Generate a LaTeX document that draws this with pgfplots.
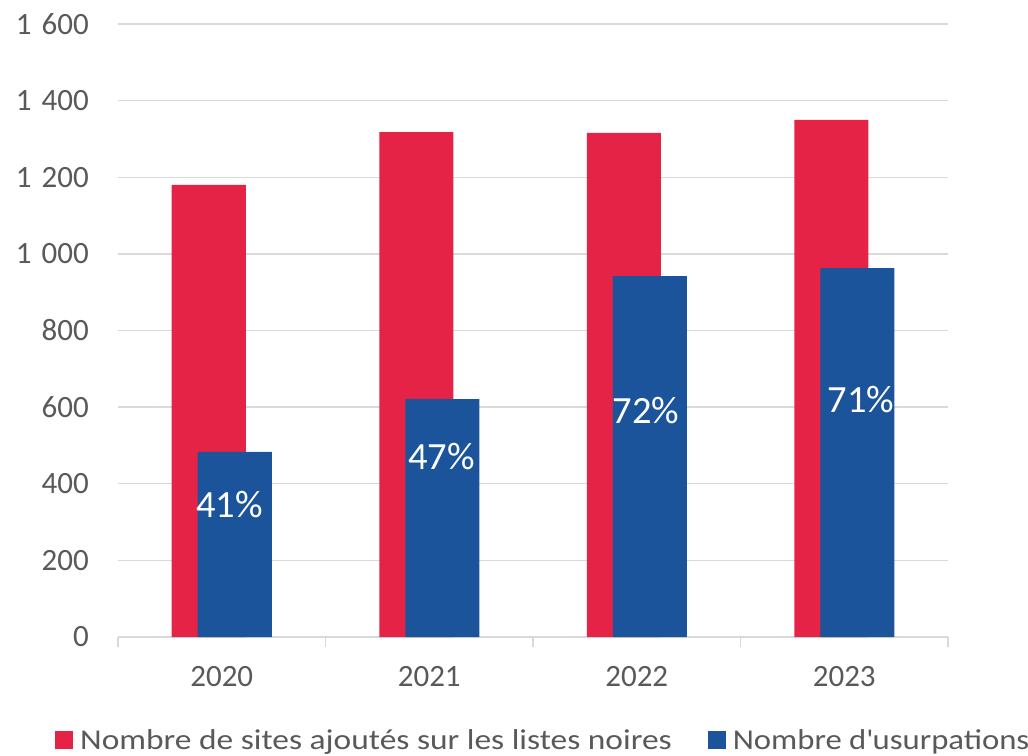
\documentclass[border=0pt]{standalone}
\usepackage{pgfplots}
\pgfplotsset{compat=1.18}
\usepackage{fontspec}
\setmainfont{Carlito}
\newfontfamily\legfont[FakeStretch=1.165]{Carlito}
\newfontfamily\legfontb[FakeStretch=1.14]{Carlito}
\definecolor{cred}{RGB}{229,35,70}
\definecolor{cblue}{RGB}{28,84,155}
\definecolor{ctext}{RGB}{89,89,89}
\definecolor{cgrid}{RGB}{217,217,217}
\begin{document}
\begin{tikzpicture}
\useasboundingbox (-118pt,-118pt) rectangle (910pt,637pt);
\begin{axis}[
  at={(0,0)}, anchor=south west,
  scale only axis, width=830pt, height=613pt,
  xmin=-0.5, xmax=3.5, ymin=0, ymax=1600,
  ybar, bar width=74pt,
  axis lines*=left,
  y axis line style={draw=none},
  x axis line style={cgrid, line width=1.3pt},
  ymajorgrids, grid style={cgrid, line width=1.3pt},
  major tick length=10pt, tick align=outside,
  ytick={0,200,400,600,800,1000,1200,1400,1600},
  yticklabels={0,200,400,600,800,{1\hspace{10pt}000},{1\hspace{10pt}200},{1\hspace{10pt}400},{1\hspace{10pt}600}},
  ytick style={draw=none},
  xtick={0,1,2,3}, xticklabels={2020,2021,2022,2023},
  xtick style={draw=none},
  extra x ticks={-0.5,0.5,1.5,2.5,3.5},
  extra x tick labels={},
  extra x tick style={xtick style={draw=cgrid, line width=1.3pt}, tick style={draw=cgrid, line width=1.3pt}, grid=none},
  /pgf/number format/assume math mode=true,
  yticklabel style={anchor=east, inner sep=0pt, xshift=-19pt, font=\fontsize{31}{37}\selectfont, text=ctext},
  xticklabel style={anchor=north, inner sep=0pt, yshift=-19pt, font=\fontsize{31}{37}\selectfont, text=ctext},
  legend columns=2,
  legend style={at={(0,0)}, anchor=west, xshift=-63pt, yshift=-103pt, draw=none, fill=none,
    inner sep=0pt, font=\fontsize{28.7}{34}\selectfont, text=ctext,
    nodes={inner sep=0pt},
    /tikz/every odd column/.append style={column sep=7pt},
    /tikz/every even column/.append style={column sep=36pt}},
  legend image code/.code={\fill[#1] (0pt,-9pt) rectangle (18pt,9pt);},
]
\addplot[fill=cred, draw=none, bar shift=-13pt] coordinates {(0,1180) (1,1318) (2,1316) (3,1350)};
\addlegendentry{\legfont Nombre de sites ajoutés sur les listes noires}
\addplot[fill=cblue, draw=none, bar shift=13pt] coordinates {(0,483) (1,621) (2,942) (3,963)};
\addlegendentry{\legfontb Nombre d\textquotesingle usurpations}
\node[text=white, font=\fontsize{38.5}{44}\selectfont, inner sep=0pt] at (axis cs:0.037,347) {41\%};
\node[text=white, font=\fontsize{38.5}{44}\selectfont, inner sep=0pt] at (axis cs:1.059,472) {47\%};
\node[text=white, font=\fontsize{38.5}{44}\selectfont, inner sep=0pt] at (axis cs:2.045,592) {72\%};
\node[text=white, font=\fontsize{38.5}{44}\selectfont, inner sep=0pt] at (axis cs:3.081,619) {71\%};
\end{axis}
\end{tikzpicture}
\end{document}
